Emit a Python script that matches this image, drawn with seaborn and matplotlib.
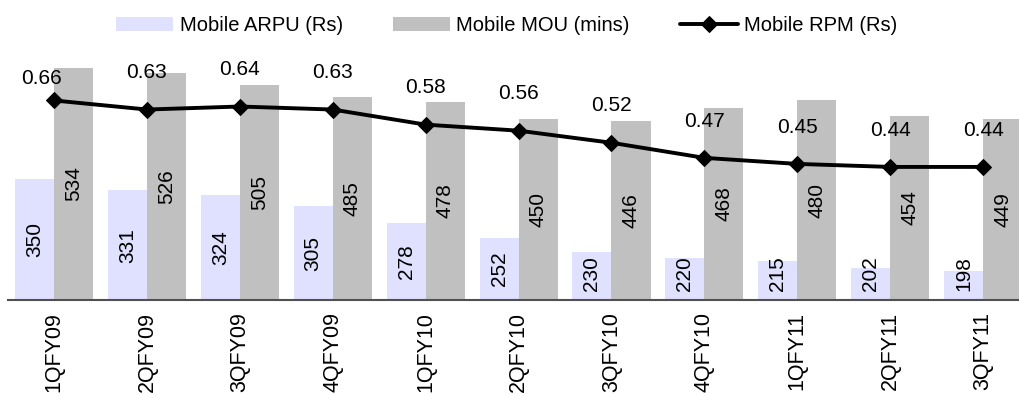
import numpy as np
import pandas as pd
import matplotlib
matplotlib.use("Agg")
import matplotlib.pyplot as plt
import seaborn as sns

# data
quarters = ["1QFY09", "2QFY09", "3QFY09", "4QFY09", "1QFY10", "2QFY10",
            "3QFY10", "4QFY10", "1QFY11", "2QFY11", "3QFY11"]
arpu = [350, 331, 324, 305, 278, 252, 230, 220, 215, 202, 198]
mou = [534, 526, 505, 485, 478, 450, 446, 468, 480, 454, 449]
rpm = [0.66, 0.63, 0.64, 0.63, 0.58, 0.56, 0.52, 0.47, 0.45, 0.44, 0.44]

sns.set_theme(style="white")
plt.rcParams["font.family"] = ["Liberation Sans", "DejaVu Sans"]
plt.rcParams["text.color"] = "black"
plt.rcParams["xtick.color"] = "black"

df = pd.DataFrame({
    "quarter": quarters * 2,
    "value": arpu + mou,
    "series": ["Mobile ARPU (Rs)"] * len(quarters) + ["Mobile MOU (mins)"] * len(quarters),
})

fig = plt.figure(figsize=(10.19, 3.94), dpi=100)
ax = fig.add_axes([0.0074, 0.239, 1.003, 0.69])

sns.barplot(data=df, x="quarter", y="value", hue="series",
            palette=["#E0E0FF", "#C0C0C0"], width=0.84, saturation=1,
            linewidth=0, ax=ax, legend=True)
ax.set_ylim(150, 600)
ax.set_xlim(-0.5, 10.5)

# bar value labels
for i in range(len(quarters)):
    ya = max((150 + arpu[i]) / 2, 194)
    ax.text(i - 0.21, ya, str(arpu[i]), rotation=90, ha="center", va="center", fontsize=15)
    ax.text(i + 0.21, (150 + mou[i]) / 2, str(mou[i]), rotation=90, ha="center", va="center", fontsize=15)

# RPM line on right axis
ax2 = ax.twinx()
sns.lineplot(x=np.arange(len(quarters)), y=rpm, ax=ax2, color="black",
             marker="D", markersize=8, markeredgecolor="black", linewidth=2.8,
             label="Mobile RPM (Rs)")
ax2.set_ylim(0, 0.9)
ax.set_xlim(-0.5, 10.5)
for i, v in enumerate(rpm):
    if i == 0:
        ax2.text(i - 0.13, v + 0.072, f"{v:.2f}", ha="center", va="center", fontsize=15)
    else:
        ax2.text(i, v + 0.122, f"{v:.2f}", ha="center", va="center", fontsize=15)

# legend on top
h1, l1 = ax.get_legend_handles_labels()
h2, l2 = ax2.get_legend_handles_labels()
ax.get_legend().remove()
ax2.get_legend().remove()
fig.legend(h1 + h2, l1 + l2, loc="center", bbox_to_anchor=(0.497, 0.935), ncol=3,
           frameon=False, fontsize=14.5, handlelength=2.85, handleheight=0.75,
           columnspacing=2.5, handletextpad=0.3)

# axes styling
for a in (ax, ax2):
    for s in ("top", "left", "right"):
        a.spines[s].set_visible(False)
    a.set_yticks([])
    a.set_ylabel("")
ax2.spines["bottom"].set_visible(False)
ax.spines["bottom"].set_color("#505050")
ax.spines["bottom"].set_linewidth(1.5)
ax.set_xlabel("")
ax.tick_params(axis="x", length=0, pad=9, labelsize=15.5, rotation=90)

fig.savefig("out.png", dpi=100)
